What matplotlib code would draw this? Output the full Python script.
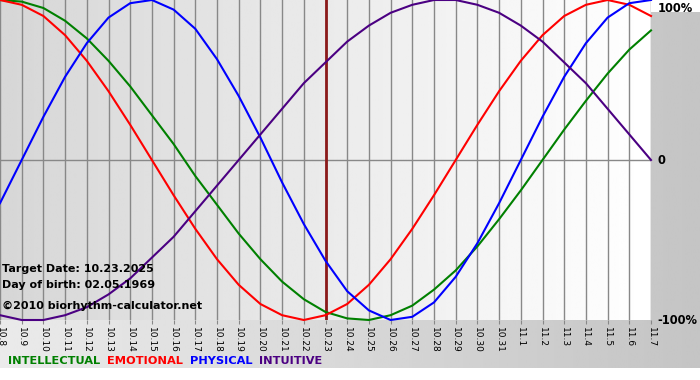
import numpy as np
import matplotlib.pyplot as plt

# подписи дней по оси X
days = ['10.8', '10.9', '10.10', '10.11', '10.12', '10.13', '10.14', '10.15',
        '10.16', '10.17', '10.18', '10.19', '10.20', '10.21', '10.22', '10.23',
        '10.24', '10.25', '10.26', '10.27', '10.28', '10.29', '10.30', '10.31',
        '11.1', '11.2', '11.3', '11.4', '11.5', '11.6', '11.7']
target_idx = 15

# значения биоритмов (доли от 100%)
intellectual = [1.00, 0.99, 0.95, 0.87, 0.76, 0.62, 0.46, 0.28, 0.10, -0.10,
                -0.28, -0.46, -0.62, -0.76, -0.87, -0.95, -0.99, -1.00, -0.97,
                -0.91, -0.81, -0.69, -0.54, -0.37, -0.19, 0.00, 0.19, 0.37,
                0.54, 0.69, 0.81]
emotional = [1.00, 0.97, 0.90, 0.78, 0.62, 0.43, 0.22, 0.00, -0.22, -0.43,
             -0.62, -0.78, -0.90, -0.97, -1.00, -0.97, -0.90, -0.78, -0.62,
             -0.43, -0.22, 0.00, 0.22, 0.43, 0.62, 0.78, 0.90, 0.97, 1.00,
             0.97, 0.90]
physical = [-0.27, 0.00, 0.27, 0.52, 0.73, 0.89, 0.98, 1.00, 0.94, 0.82,
            0.63, 0.40, 0.14, -0.14, -0.40, -0.63, -0.82, -0.94, -1.00, -0.98,
            -0.89, -0.73, -0.52, -0.27, 0.00, 0.27, 0.52, 0.73, 0.89, 0.98,
            1.00]
intuitive = [-0.97, -1.00, -1.00, -0.97, -0.92, -0.84, -0.74, -0.61, -0.48,
             -0.32, -0.16, 0.00, 0.16, 0.32, 0.48, 0.61, 0.74, 0.84, 0.92,
             0.97, 1.00, 1.00, 0.97, 0.92, 0.84, 0.74, 0.61, 0.48, 0.32, 0.16,
             0.00]

series = [('INTELLECTUAL', intellectual, '#008000'),
          ('EMOTIONAL', emotional, '#ff0000'),
          ('PHYSICAL', physical, '#0000ff'),
          ('INTUITIVE', intuitive, '#4b0082')]

W, H = 700, 380
fig = plt.figure(figsize=(W / 100, H / 100), dpi=100)
fig.patch.set_facecolor('white')

# фон - серый градиент
bg = fig.add_axes([0, 12 / H, 1, 356 / H])
bg.imshow(np.linspace(0.92, 0.77, 256).reshape(1, -1), cmap='gray',
          vmin=0, vmax=1, aspect='auto', extent=[0, 1, 0, 1])
bg.axis('off')

ax = fig.add_axes([0, 60 / H, 651 / W, 320 / H])
x = np.arange(len(days))
ax.imshow(np.linspace(0.84, 1.0, 256).reshape(1, -1), cmap='gray',
          vmin=0, vmax=1, aspect='auto', extent=[0, x[-1], -1, 1], zorder=0)
ax.set_xlim(0, x[-1])
ax.set_ylim(-1, 1)

for xi in x:
    ax.axvline(xi, color='#888888', lw=1, zorder=1)
ax.axhline(0, color='#888888', lw=1, zorder=1)
ax.axvline(target_idx, color='#8b1a1a', lw=2, zorder=2)

for name, vals, col in series:
    ax.plot(x, vals, color=col, lw=1.5, zorder=3, clip_on=False,
            solid_joinstyle='round')

ax.set_xticks(x)
ax.set_xticklabels(days, rotation=270, fontsize=6.5)
ax.tick_params(axis='x', length=3, color='#888888', pad=2)
ax.set_yticks([])
for s in ax.spines.values():
    s.set_visible(False)

# подписи справа
for yv, lbl in [(0.95, '100%'), (0, '0'), (-1, '-100%')]:
    ax.text(x[-1] + 0.3, yv, lbl, fontsize=8.3, fontweight='bold',
            va='center', ha='left', clip_on=False)

info = ['Target Date: 10.23.2025', 'Day of birth: 02.05.1969']
ax.text(0.1, -0.68, info[0], fontsize=8, fontweight='bold', va='center')
ax.text(0.1, -0.78, info[1], fontsize=8, fontweight='bold', va='center')
ax.text(0.1, -0.91, '\u00a92010 biorhythm-calculator.net', fontsize=8,
        fontweight='bold', va='center')

# легенда
xpos = 8
for name, vals, col in series:
    t = fig.text(xpos / W, 1 - 361 / H, name, color=col, fontsize=8.2,
                 fontweight='bold', va='center')
    fig.canvas.draw()
    bb = t.get_window_extent()
    xpos += bb.width + 7

fig.savefig('out.png', dpi=100)
